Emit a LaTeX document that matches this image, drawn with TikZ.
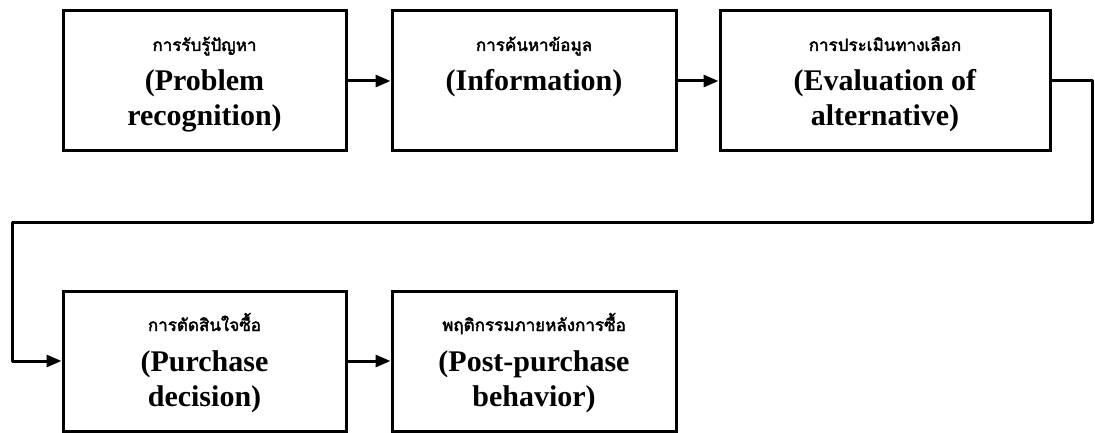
\documentclass[tikz,border=0pt]{standalone}
\usepackage{fontspec}
\setmainfont{Liberation Serif}
\newfontfamily\thaifont[Script=Thai, AutoFakeBold=2.5]{Loma}
\usetikzlibrary{arrows.meta}
\newcommand{\stagetext}[3]{\parbox[t][140pt][t]{#1}{\centering
	{\thaifont\bfseries\fontsize{17}{20}\selectfont\rule{0pt}{40pt}#2\par}
	\vspace{5pt}
	{\bfseries\fontsize{30}{35}\selectfont #3\par}}}

\begin{document}
\begin{tikzpicture}[x=1pt, y=-1pt, >={Triangle[length=15pt, width=12pt]}]
	\tikzset{stage/.style={draw, line width=3pt, inner sep=0pt}}
	\useasboundingbox (0,0) rectangle (1095,433);
	\node[stage] (recog) at (204.5,81) {\stagetext{283pt}{การรับรู้ปัญหา}{(Problem\\recognition)}};
	\node[stage] (info) at (534,81) {\stagetext{284pt}{การค้นหาข้อมูล}{(Information)}};
	\node[stage] (evalalt) at (885,81) {\stagetext{330pt}{การประเมินทางเลือก}{(Evaluation of\\alternative)}};
	\node[stage] (decide) at (204.5,361) {\stagetext{283pt}{การตัดสินใจซื้อ}{(Purchase\\decision)}};
	\node[stage] (postbuy) at (534,361) {\stagetext{284pt}{พฤติกรรมภายหลังการซื้อ}{(Post-purchase\\behavior)}};
	\coordinate (turnR) at (1092,222);
	\coordinate (turnL) at (12,222);
	\draw[line width=3pt, ->] (recog) -- (info);
	\draw[line width=3pt, ->] (info) -- (evalalt);
	\draw[line width=3pt, ->, line join=round] (evalalt.east) -| (turnR) -- (turnL) |- (decide.west);
	\draw[line width=3pt, ->] (decide) -- (postbuy);
\end{tikzpicture}
\end{document}
